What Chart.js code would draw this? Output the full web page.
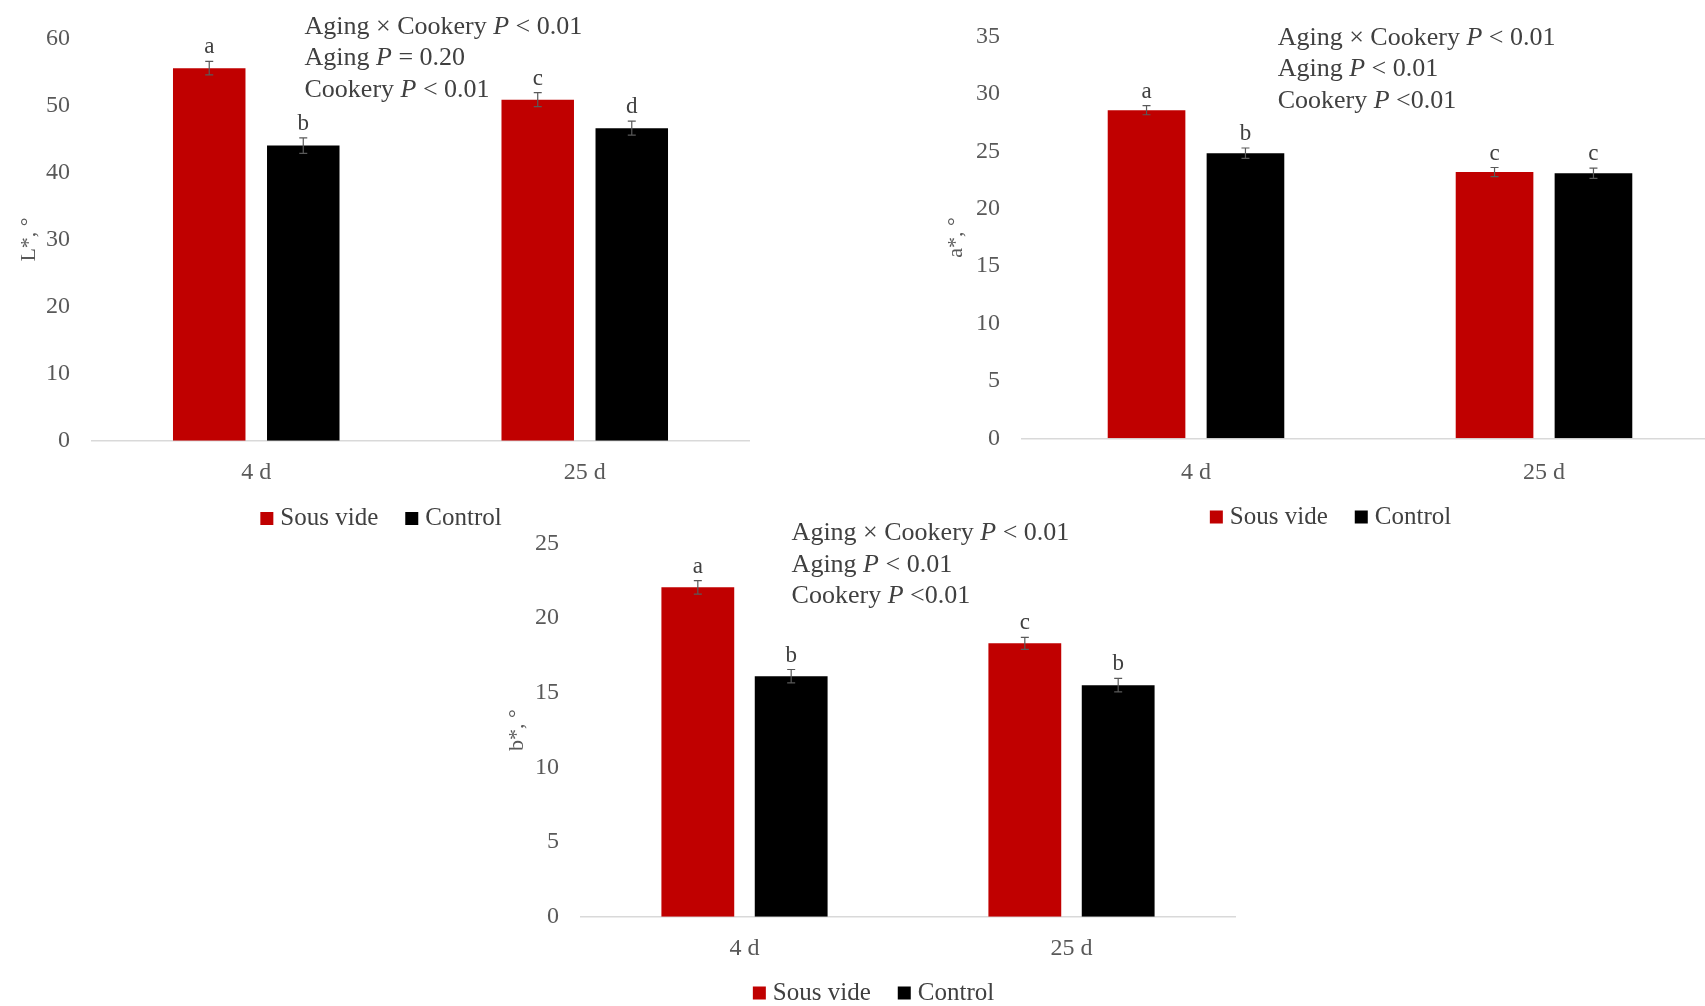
<!DOCTYPE html>
<html>
<head>
<meta charset="utf-8">
<script src="https://cdn.jsdelivr.net/npm/chart.js@4.4.0/dist/chart.umd.min.js"></script>
<style>
  html, body { margin: 0; padding: 0; background: #fff; overflow: hidden; }
  #wrap { position: relative; width: 1705px; height: 1006px; overflow: hidden; }
  canvas { position: absolute; }
</style>
</head>
<body>
<div id="wrap">
  <canvas id="chartL" width="760" height="545" style="left:0px;top:0px"></canvas>
  <canvas id="chartA" width="800" height="545" style="left:930px;top:0px"></canvas>
  <canvas id="chartB" width="760" height="506" style="left:490px;top:500px"></canvas>
</div>
<script>
// shared
const categories = ['4 d', '25 d'];
const seriesNames = ['Sous vide', 'Control'];
const seriesColors = ['#C00000', '#000000'];

// L* chart
const sousVideL = [55.55, 50.85];
const controlL = [44.0, 46.6];
const sousVideLErr = [1.0, 1.05];
const controlLErr = [1.15, 1.05];
const sousVideLLetters = ['a', 'c'];
const controlLLetters = ['b', 'd'];
const ticksL = { min: 0, max: 60, step: 10 };
const notesL = ['Aging × Cookery P < 0.01', 'Aging P = 0.20', 'Cookery P < 0.01'];

// a* chart
const sousVideA = [28.6, 23.2];
const controlA = [24.85, 23.1];
const sousVideAErr = [0.4, 0.4];
const controlAErr = [0.45, 0.45];
const sousVideALetters = ['a', 'c'];
const controlALetters = ['b', 'c'];
const ticksA = { min: 0, max: 35, step: 5 };
const notesA = ['Aging × Cookery P < 0.01', 'Aging P < 0.01', 'Cookery P <0.01'];

// b* chart
const sousVideB = [22.05, 18.3];
const controlB = [16.1, 15.5];
const sousVideBErr = [0.45, 0.4];
const controlBErr = [0.45, 0.45];
const sousVideBLetters = ['a', 'c'];
const controlBLetters = ['b', 'b'];
const ticksB = { min: 0, max: 25, step: 5 };
const notesB = ['Aging × Cookery P < 0.01', 'Aging P < 0.01', 'Cookery P <0.01'];

const FONT = '"Liberation Serif", "Times New Roman", serif';

// error bars, letters, notes and legend
const extrasPlugin = {
  id: 'extras',
  afterDatasetsDraw(chart) {
    const ctx = chart.ctx;
    const yScale = chart.scales.y;
    ctx.save();
    chart.data.datasets.forEach((ds, di) => {
      const meta = chart.getDatasetMeta(di);
      meta.data.forEach((bar, i) => {
        const v = ds.data[i];
        const e = ds.errors[i];
        const yTop = yScale.getPixelForValue(v + e);
        const yBot = yScale.getPixelForValue(v - e);
        ctx.strokeStyle = '#595959';
        ctx.lineWidth = 1.2;
        ctx.beginPath();
        ctx.moveTo(bar.x, yTop);
        ctx.lineTo(bar.x, yBot);
        ctx.moveTo(bar.x - 4, yTop);
        ctx.lineTo(bar.x + 4, yTop);
        ctx.moveTo(bar.x - 4, yBot);
        ctx.lineTo(bar.x + 4, yBot);
        ctx.stroke();
        ctx.fillStyle = '#404040';
        ctx.font = '23px ' + FONT;
        ctx.textAlign = 'center';
        ctx.textBaseline = 'alphabetic';
        ctx.fillText(ds.letters[i], bar.x, yTop - 8);
      });
    });
    ctx.restore();
  },
  afterDraw(chart, args, opts) {
    const ctx = chart.ctx;
    ctx.save();
    ctx.fillStyle = '#404040';
    ctx.textBaseline = 'alphabetic';
    ctx.textAlign = 'left';
    // notes
    opts.notes.forEach((line, k) => {
      const parts = line.split(' P ');
      let x = opts.noteX;
      const y = opts.noteY + k * 31.6;
      ctx.font = '26px ' + FONT;
      ctx.fillText(parts[0] + ' ', x, y);
      x += ctx.measureText(parts[0] + ' ').width;
      ctx.font = 'italic 26px ' + FONT;
      ctx.fillText('P', x, y);
      x += ctx.measureText('P').width;
      ctx.font = '26px ' + FONT;
      ctx.fillText(' ' + parts[1], x, y);
    });
    // legend
    ctx.font = '25px ' + FONT;
    const box = 13, gap = 7, spacing = 27;
    const widths = seriesNames.map(n => box + gap + ctx.measureText(n).width);
    const total = widths.reduce((a, b) => a + b, 0) + spacing * (seriesNames.length - 1);
    let lx = opts.legendX - total / 2;
    seriesNames.forEach((n, i) => {
      ctx.fillStyle = seriesColors[i];
      ctx.fillRect(lx, opts.legendY - box / 2, box, box);
      ctx.fillStyle = '#404040';
      ctx.fillText(n, lx + box + gap, opts.legendY + box / 2);
      lx += widths[i] + spacing;
    });
    ctx.restore();
  }
};

function makeChart(id, cfg) {
  return new Chart(document.getElementById(id), {
    type: 'bar',
    data: {
      labels: categories,
      datasets: [
        {
          label: seriesNames[0],
          data: cfg.sv,
          errors: cfg.svErr,
          letters: cfg.svLetters,
          backgroundColor: seriesColors[0],
          categoryPercentage: cfg.catPct,
          barPercentage: cfg.barPct
        },
        {
          label: seriesNames[1],
          data: cfg.ct,
          errors: cfg.ctErr,
          letters: cfg.ctLetters,
          backgroundColor: seriesColors[1],
          categoryPercentage: cfg.catPct,
          barPercentage: cfg.barPct
        }
      ]
    },
    plugins: [extrasPlugin],
    options: {
      responsive: false,
      animation: false,
      devicePixelRatio: 1,
      layout: { padding: { top: cfg.top, right: cfg.right, left: 0, bottom: 0 } },
      plugins: {
        legend: { display: false },
        tooltip: { enabled: false },
        extras: {
          notes: cfg.notes,
          noteX: cfg.noteX,
          noteY: cfg.noteY,
          legendX: cfg.legendX,
          legendY: cfg.legendY
        }
      },
      scales: {
        x: {
          grid: { display: false, drawTicks: false },
          border: { display: true, color: '#d9d9d9', width: 1.5 },
          ticks: { color: '#595959', font: { family: FONT, size: 24 }, padding: cfg.xPad },
          afterFit: s => { s.height = cfg.xHeight; }
        },
        y: {
          min: cfg.ticks.min,
          max: cfg.ticks.max,
          grid: { display: false, drawTicks: false },
          border: { display: false },
          ticks: { stepSize: cfg.ticks.step, color: '#595959', font: { family: FONT, size: 24 }, padding: 22 },
          title: {
            display: true,
            text: cfg.yTitle,
            color: '#595959',
            font: { family: FONT, size: 22 },
            padding: { top: cfg.titlePad, bottom: 0 }
          },
          afterFit: s => { s.width = cfg.yWidth; }
        }
      }
    }
  });
}

makeChart('chartL', {
  sv: sousVideL, ct: controlL, svErr: sousVideLErr, ctErr: controlLErr,
  svLetters: sousVideLLetters, ctLetters: controlLLetters,
  ticks: ticksL, notes: notesL, yTitle: 'L*, °',
  catPct: 0.5725, barPct: 0.771,
  top: 38.3, right: 11, xHeight: 545 - 440.7, yWidth: 92, titlePad: 16, xPad: 18,
  noteX: 304.5, noteY: 33.5, legendX: 381, legendY: 518.5
});

makeChart('chartA', {
  sv: sousVideA, ct: controlA, svErr: sousVideAErr, ctErr: controlAErr,
  svLetters: sousVideALetters, ctLetters: controlALetters,
  ticks: ticksA, notes: notesA, yTitle: 'a*, °',
  catPct: 0.5685, barPct: 0.785,
  top: 36.7, right: 12, xHeight: 545 - 438.3, yWidth: 92, titlePad: 13, xPad: 20,
  noteX: 1277.7 - 930, noteY: 44.5, legendX: 1330.5 - 930, legendY: 517
});

makeChart('chartB', {
  sv: sousVideB, ct: controlB, svErr: sousVideBErr, ctErr: controlBErr,
  svLetters: sousVideBLetters, ctLetters: controlBLetters,
  ticks: ticksB, notes: notesB, yTitle: 'b*, °',
  catPct: 0.571, barPct: 0.78,
  top: 43.3, right: 760 - 1235 + 490, xHeight: 506 - 416.7, yWidth: 91, titlePad: 14, xPad: 18,
  noteX: 791.6 - 490, noteY: 540.2 - 500, legendX: 873.5 - 490, legendY: 493
});
</script>
</body>
</html>
